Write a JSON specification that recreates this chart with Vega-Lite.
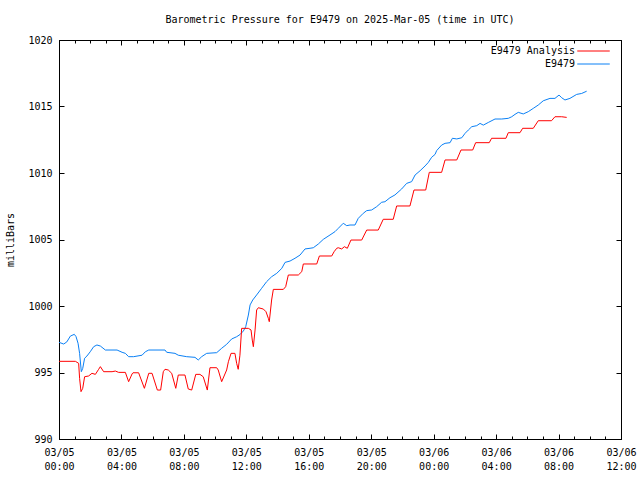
{
  "$schema": "https://vega.github.io/schema/vega-lite/v6.json",
  "width": 562,
  "height": 399,
  "autosize": {"type": "none"},
  "padding": {"left": 59, "top": 40, "right": 19, "bottom": 41},
  "background": "white",
  "title": {"text": "Barometric Pressure for E9479 on 2025-Mar-05 (time in UTC)", "font": "DejaVu Sans Mono", "fontSize": 10, "fontWeight": "normal", "color": "black", "anchor": "middle", "offset": 10},
  "config": {
    "view": {"stroke": "black", "strokeWidth": 1},
    "font": "DejaVu Sans Mono",
    "axis": {"domainColor": "black", "tickColor": "black", "labelColor": "black", "titleColor": "black", "labelFont": "DejaVu Sans Mono", "labelFontSize": 10, "titleFont": "DejaVu Sans Mono", "titleFontSize": 10, "titleFontWeight": "normal", "grid": false}
  },
  "datasets": {
    "obs": [
      {"series": "E9479", "hours": 0, "mb": 997.27},
      {"series": "E9479", "hours": 0.3, "mb": 997.14},
      {"series": "E9479", "hours": 0.5, "mb": 997.3},
      {"series": "E9479", "hours": 0.73, "mb": 997.74},
      {"series": "E9479", "hours": 0.98, "mb": 997.87},
      {"series": "E9479", "hours": 1.09, "mb": 997.7},
      {"series": "E9479", "hours": 1.22, "mb": 997.2},
      {"series": "E9479", "hours": 1.32, "mb": 996.44},
      {"series": "E9479", "hours": 1.43, "mb": 995.06},
      {"series": "E9479", "hours": 1.52, "mb": 995.31},
      {"series": "E9479", "hours": 1.64, "mb": 996.07},
      {"series": "E9479", "hours": 1.79, "mb": 996.24},
      {"series": "E9479", "hours": 2.0, "mb": 996.56},
      {"series": "E9479", "hours": 2.22, "mb": 996.94},
      {"series": "E9479", "hours": 2.43, "mb": 997.07},
      {"series": "E9479", "hours": 2.65, "mb": 996.99},
      {"series": "E9479", "hours": 2.97, "mb": 996.69},
      {"series": "E9479", "hours": 3.72, "mb": 996.69},
      {"series": "E9479", "hours": 4.04, "mb": 996.52},
      {"series": "E9479", "hours": 4.25, "mb": 996.44},
      {"series": "E9479", "hours": 4.46, "mb": 996.19},
      {"series": "E9479", "hours": 4.78, "mb": 996.19},
      {"series": "E9479", "hours": 5.32, "mb": 996.3},
      {"series": "E9479", "hours": 5.53, "mb": 996.56},
      {"series": "E9479", "hours": 5.75, "mb": 996.69},
      {"series": "E9479", "hours": 6.79, "mb": 996.69},
      {"series": "E9479", "hours": 6.9, "mb": 996.52},
      {"series": "E9479", "hours": 7.43, "mb": 996.44},
      {"series": "E9479", "hours": 7.64, "mb": 996.3},
      {"series": "E9479", "hours": 8.18, "mb": 996.19},
      {"series": "E9479", "hours": 8.71, "mb": 996.14},
      {"series": "E9479", "hours": 8.92, "mb": 995.94},
      {"series": "E9479", "hours": 9.14, "mb": 996.19},
      {"series": "E9479", "hours": 9.46, "mb": 996.44},
      {"series": "E9479", "hours": 10.1, "mb": 996.49},
      {"series": "E9479", "hours": 10.42, "mb": 996.82},
      {"series": "E9479", "hours": 10.74, "mb": 997.12},
      {"series": "E9479", "hours": 11.06, "mb": 997.52},
      {"series": "E9479", "hours": 11.38, "mb": 997.69},
      {"series": "E9479", "hours": 11.59, "mb": 997.85},
      {"series": "E9479", "hours": 11.81, "mb": 998.12},
      {"series": "E9479", "hours": 11.96, "mb": 998.44},
      {"series": "E9479", "hours": 12.13, "mb": 999.32},
      {"series": "E9479", "hours": 12.24, "mb": 1000.08},
      {"series": "E9479", "hours": 12.41, "mb": 1000.45},
      {"series": "E9479", "hours": 12.66, "mb": 1000.83},
      {"series": "E9479", "hours": 12.98, "mb": 1001.33},
      {"series": "E9479", "hours": 13.3, "mb": 1001.83},
      {"series": "E9479", "hours": 13.62, "mb": 1002.2},
      {"series": "E9479", "hours": 13.95, "mb": 1002.46},
      {"series": "E9479", "hours": 14.27, "mb": 1002.83},
      {"series": "E9479", "hours": 14.48, "mb": 1003.28},
      {"series": "E9479", "hours": 14.8, "mb": 1003.38},
      {"series": "E9479", "hours": 15.12, "mb": 1003.59},
      {"series": "E9479", "hours": 15.44, "mb": 1003.83},
      {"series": "E9479", "hours": 15.76, "mb": 1004.29},
      {"series": "E9479", "hours": 16.08, "mb": 1004.34},
      {"series": "E9479", "hours": 16.29, "mb": 1004.38},
      {"series": "E9479", "hours": 16.61, "mb": 1004.66},
      {"series": "E9479", "hours": 16.93, "mb": 1005.01},
      {"series": "E9479", "hours": 17.36, "mb": 1005.34},
      {"series": "E9479", "hours": 17.68, "mb": 1005.59},
      {"series": "E9479", "hours": 17.89, "mb": 1005.84},
      {"series": "E9479", "hours": 18.21, "mb": 1006.22},
      {"series": "E9479", "hours": 18.43, "mb": 1006.04},
      {"series": "E9479", "hours": 18.64, "mb": 1006.09},
      {"series": "E9479", "hours": 18.96, "mb": 1006.09},
      {"series": "E9479", "hours": 19.17, "mb": 1006.59},
      {"series": "E9479", "hours": 19.49, "mb": 1006.97},
      {"series": "E9479", "hours": 19.71, "mb": 1007.17},
      {"series": "E9479", "hours": 20.03, "mb": 1007.22},
      {"series": "E9479", "hours": 20.35, "mb": 1007.47},
      {"series": "E9479", "hours": 20.67, "mb": 1007.8},
      {"series": "E9479", "hours": 20.88, "mb": 1007.84},
      {"series": "E9479", "hours": 21.2, "mb": 1008.14},
      {"series": "E9479", "hours": 21.52, "mb": 1008.35},
      {"series": "E9479", "hours": 21.95, "mb": 1008.8},
      {"series": "E9479", "hours": 22.27, "mb": 1009.22},
      {"series": "E9479", "hours": 22.59, "mb": 1009.35},
      {"series": "E9479", "hours": 22.81, "mb": 1009.85},
      {"series": "E9479", "hours": 23.13, "mb": 1010.17},
      {"series": "E9479", "hours": 23.45, "mb": 1010.53},
      {"series": "E9479", "hours": 23.66, "mb": 1010.8},
      {"series": "E9479", "hours": 23.87, "mb": 1011.18},
      {"series": "E9479", "hours": 24.09, "mb": 1011.4},
      {"series": "E9479", "hours": 24.19, "mb": 1011.68},
      {"series": "E9479", "hours": 24.51, "mb": 1012.1},
      {"series": "E9479", "hours": 24.73, "mb": 1012.23},
      {"series": "E9479", "hours": 25.05, "mb": 1012.28},
      {"series": "E9479", "hours": 25.2, "mb": 1012.61},
      {"series": "E9479", "hours": 25.48, "mb": 1012.56},
      {"series": "E9479", "hours": 25.8, "mb": 1012.65},
      {"series": "E9479", "hours": 26.01, "mb": 1012.98},
      {"series": "E9479", "hours": 26.22, "mb": 1013.23},
      {"series": "E9479", "hours": 26.44, "mb": 1013.48},
      {"series": "E9479", "hours": 26.76, "mb": 1013.56},
      {"series": "E9479", "hours": 26.97, "mb": 1013.73},
      {"series": "E9479", "hours": 27.18, "mb": 1013.6},
      {"series": "E9479", "hours": 27.5, "mb": 1013.8},
      {"series": "E9479", "hours": 27.93, "mb": 1014.06},
      {"series": "E9479", "hours": 28.36, "mb": 1014.06},
      {"series": "E9479", "hours": 28.78, "mb": 1014.11},
      {"series": "E9479", "hours": 29.0, "mb": 1014.23},
      {"series": "E9479", "hours": 29.21, "mb": 1014.41},
      {"series": "E9479", "hours": 29.42, "mb": 1014.56},
      {"series": "E9479", "hours": 29.74, "mb": 1014.44},
      {"series": "E9479", "hours": 30.06, "mb": 1014.61},
      {"series": "E9479", "hours": 30.38, "mb": 1014.86},
      {"series": "E9479", "hours": 30.7, "mb": 1015.11},
      {"series": "E9479", "hours": 31.02, "mb": 1015.43},
      {"series": "E9479", "hours": 31.45, "mb": 1015.61},
      {"series": "E9479", "hours": 31.77, "mb": 1015.61},
      {"series": "E9479", "hours": 32.03, "mb": 1015.86},
      {"series": "E9479", "hours": 32.2, "mb": 1015.66},
      {"series": "E9479", "hours": 32.41, "mb": 1015.49},
      {"series": "E9479", "hours": 32.73, "mb": 1015.61},
      {"series": "E9479", "hours": 33.16, "mb": 1015.91},
      {"series": "E9479", "hours": 33.48, "mb": 1015.98},
      {"series": "E9479", "hours": 33.8, "mb": 1016.15},
      {"series": "E9479 Analysis", "hours": 0, "mb": 995.84},
      {"series": "E9479 Analysis", "hours": 1.05, "mb": 995.84},
      {"series": "E9479 Analysis", "hours": 1.26, "mb": 995.69},
      {"series": "E9479 Analysis", "hours": 1.32, "mb": 994.56},
      {"series": "E9479 Analysis", "hours": 1.41, "mb": 993.56},
      {"series": "E9479 Analysis", "hours": 1.52, "mb": 993.81},
      {"series": "E9479 Analysis", "hours": 1.64, "mb": 994.68},
      {"series": "E9479 Analysis", "hours": 1.9, "mb": 994.74},
      {"series": "E9479 Analysis", "hours": 2.11, "mb": 994.94},
      {"series": "E9479 Analysis", "hours": 2.33, "mb": 994.86},
      {"series": "E9479 Analysis", "hours": 2.54, "mb": 995.24},
      {"series": "E9479 Analysis", "hours": 2.65, "mb": 995.44},
      {"series": "E9479 Analysis", "hours": 2.86, "mb": 995.06},
      {"series": "E9479 Analysis", "hours": 3.4, "mb": 995.06},
      {"series": "E9479 Analysis", "hours": 3.61, "mb": 995.11},
      {"series": "E9479 Analysis", "hours": 3.82, "mb": 995.01},
      {"series": "E9479 Analysis", "hours": 4.25, "mb": 995.01},
      {"series": "E9479 Analysis", "hours": 4.46, "mb": 994.31},
      {"series": "E9479 Analysis", "hours": 4.68, "mb": 994.89},
      {"series": "E9479 Analysis", "hours": 4.74, "mb": 994.98},
      {"series": "E9479 Analysis", "hours": 5.1, "mb": 994.98},
      {"series": "E9479 Analysis", "hours": 5.47, "mb": 993.81},
      {"series": "E9479 Analysis", "hours": 5.75, "mb": 994.94},
      {"series": "E9479 Analysis", "hours": 5.96, "mb": 994.94},
      {"series": "E9479 Analysis", "hours": 6.3, "mb": 993.68},
      {"series": "E9479 Analysis", "hours": 6.51, "mb": 993.68},
      {"series": "E9479 Analysis", "hours": 6.68, "mb": 995.06},
      {"series": "E9479 Analysis", "hours": 6.79, "mb": 995.24},
      {"series": "E9479 Analysis", "hours": 7.0, "mb": 995.19},
      {"series": "E9479 Analysis", "hours": 7.22, "mb": 994.94},
      {"series": "E9479 Analysis", "hours": 7.48, "mb": 993.81},
      {"series": "E9479 Analysis", "hours": 7.64, "mb": 994.81},
      {"series": "E9479 Analysis", "hours": 8.07, "mb": 994.81},
      {"series": "E9479 Analysis", "hours": 8.28, "mb": 993.76},
      {"series": "E9479 Analysis", "hours": 8.5, "mb": 993.68},
      {"series": "E9479 Analysis", "hours": 8.76, "mb": 994.86},
      {"series": "E9479 Analysis", "hours": 9.03, "mb": 994.86},
      {"series": "E9479 Analysis", "hours": 9.24, "mb": 994.68},
      {"series": "E9479 Analysis", "hours": 9.5, "mb": 993.68},
      {"series": "E9479 Analysis", "hours": 9.67, "mb": 995.36},
      {"series": "E9479 Analysis", "hours": 10.1, "mb": 995.36},
      {"series": "E9479 Analysis", "hours": 10.2, "mb": 995.19},
      {"series": "E9479 Analysis", "hours": 10.42, "mb": 994.31},
      {"series": "E9479 Analysis", "hours": 10.74, "mb": 995.19},
      {"series": "E9479 Analysis", "hours": 10.85, "mb": 995.81},
      {"series": "E9479 Analysis", "hours": 11.02, "mb": 996.44},
      {"series": "E9479 Analysis", "hours": 11.27, "mb": 996.44},
      {"series": "E9479 Analysis", "hours": 11.38, "mb": 995.69},
      {"series": "E9479 Analysis", "hours": 11.48, "mb": 995.24},
      {"series": "E9479 Analysis", "hours": 11.59, "mb": 996.3},
      {"series": "E9479 Analysis", "hours": 11.7, "mb": 998.32},
      {"series": "E9479 Analysis", "hours": 12.13, "mb": 998.32},
      {"series": "E9479 Analysis", "hours": 12.3, "mb": 998.2},
      {"series": "E9479 Analysis", "hours": 12.38, "mb": 997.44},
      {"series": "E9479 Analysis", "hours": 12.45, "mb": 996.94},
      {"series": "E9479 Analysis", "hours": 12.56, "mb": 998.2},
      {"series": "E9479 Analysis", "hours": 12.66, "mb": 999.7},
      {"series": "E9479 Analysis", "hours": 12.77, "mb": 999.87},
      {"series": "E9479 Analysis", "hours": 13.09, "mb": 999.77},
      {"series": "E9479 Analysis", "hours": 13.26, "mb": 999.57},
      {"series": "E9479 Analysis", "hours": 13.41, "mb": 999.07},
      {"series": "E9479 Analysis", "hours": 13.47, "mb": 998.82},
      {"series": "E9479 Analysis", "hours": 13.62, "mb": 1000.45},
      {"series": "E9479 Analysis", "hours": 13.73, "mb": 1001.25},
      {"series": "E9479 Analysis", "hours": 14.37, "mb": 1001.25},
      {"series": "E9479 Analysis", "hours": 14.52, "mb": 1001.45},
      {"series": "E9479 Analysis", "hours": 14.69, "mb": 1002.33},
      {"series": "E9479 Analysis", "hours": 15.33, "mb": 1002.33},
      {"series": "E9479 Analysis", "hours": 15.55, "mb": 1002.58},
      {"series": "E9479 Analysis", "hours": 15.65, "mb": 1003.16},
      {"series": "E9479 Analysis", "hours": 16.51, "mb": 1003.16},
      {"series": "E9479 Analysis", "hours": 16.68, "mb": 1003.76},
      {"series": "E9479 Analysis", "hours": 17.47, "mb": 1003.76},
      {"series": "E9479 Analysis", "hours": 17.62, "mb": 1004.08},
      {"series": "E9479 Analysis", "hours": 17.79, "mb": 1004.34},
      {"series": "E9479 Analysis", "hours": 17.89, "mb": 1004.38},
      {"series": "E9479 Analysis", "hours": 18.11, "mb": 1004.29},
      {"series": "E9479 Analysis", "hours": 18.28, "mb": 1004.46},
      {"series": "E9479 Analysis", "hours": 18.47, "mb": 1004.34},
      {"series": "E9479 Analysis", "hours": 18.7, "mb": 1004.96},
      {"series": "E9479 Analysis", "hours": 19.39, "mb": 1004.96},
      {"series": "E9479 Analysis", "hours": 19.71, "mb": 1005.71},
      {"series": "E9479 Analysis", "hours": 20.45, "mb": 1005.71},
      {"series": "E9479 Analysis", "hours": 20.77, "mb": 1006.52},
      {"series": "E9479 Analysis", "hours": 21.41, "mb": 1006.52},
      {"series": "E9479 Analysis", "hours": 21.63, "mb": 1007.52},
      {"series": "E9479 Analysis", "hours": 22.48, "mb": 1007.52},
      {"series": "E9479 Analysis", "hours": 22.74, "mb": 1008.72},
      {"series": "E9479 Analysis", "hours": 23.49, "mb": 1008.72},
      {"series": "E9479 Analysis", "hours": 23.72, "mb": 1010.05},
      {"series": "E9479 Analysis", "hours": 24.51, "mb": 1010.05},
      {"series": "E9479 Analysis", "hours": 24.73, "mb": 1010.98},
      {"series": "E9479 Analysis", "hours": 25.48, "mb": 1010.98},
      {"series": "E9479 Analysis", "hours": 25.75, "mb": 1011.73},
      {"series": "E9479 Analysis", "hours": 26.5, "mb": 1011.73},
      {"series": "E9479 Analysis", "hours": 26.69, "mb": 1012.28},
      {"series": "E9479 Analysis", "hours": 27.56, "mb": 1012.28},
      {"series": "E9479 Analysis", "hours": 27.71, "mb": 1012.61},
      {"series": "E9479 Analysis", "hours": 28.63, "mb": 1012.61},
      {"series": "E9479 Analysis", "hours": 28.78, "mb": 1013.03},
      {"series": "E9479 Analysis", "hours": 29.53, "mb": 1013.03},
      {"series": "E9479 Analysis", "hours": 29.7, "mb": 1013.36},
      {"series": "E9479 Analysis", "hours": 30.38, "mb": 1013.36},
      {"series": "E9479 Analysis", "hours": 30.7, "mb": 1013.93},
      {"series": "E9479 Analysis", "hours": 31.55, "mb": 1013.93},
      {"series": "E9479 Analysis", "hours": 31.77, "mb": 1014.23},
      {"series": "E9479 Analysis", "hours": 32.2, "mb": 1014.23},
      {"series": "E9479 Analysis", "hours": 32.52, "mb": 1014.18}
    ]
  },
  "data": {"name": "obs"},
  "layer": [
    {
      "mark": {"type": "line", "strokeWidth": 1, "clip": true},
      "encoding": {
        "x": {"field": "hours", "type": "quantitative", "scale": {"domain": [0, 36], "nice": false, "zero": false},
          "axis": {"orient": "bottom", "title": null, "values": [0, 4, 8, 12, 16, 20, 24, 28, 32, 36], "tickSize": -5, "labelPadding": 13, "labelLineHeight": 14, "labelBaseline": "top", "labelFlush": false, "labelOverlap": false,
            "labelExpr": "[datum.value < 24 ? '03/05' : '03/06', (datum.value % 24 < 10 ? '0' : '') + (datum.value % 24) + ':00']"}},
        "y": {"field": "mb", "type": "quantitative", "scale": {"domain": [990, 1020], "nice": false, "zero": false},
          "axis": {"orient": "left", "title": "milliBars", "format": "d", "values": [990, 995, 1000, 1005, 1010, 1015, 1020], "tickSize": -5, "labelPadding": 12, "titlePadding": 12, "labelFlush": false, "labelOverlap": false}},
        "color": {"field": "series", "type": "nominal",
          "scale": {"domain": ["E9479 Analysis", "E9479"], "range": ["#ff0000", "#0a80f5"]},
          "legend": {"title": null, "orient": "none", "legendX": 527.5, "legendY": 4, "symbolType": "M-2.5,0H2.5", "symbolSize": 169, "symbolStrokeWidth": 1, "labelAlign": "right", "labelOffset": -25.5, "labelFont": "DejaVu Sans Mono", "labelFontSize": 10, "labelColor": "black", "rowPadding": 1, "padding": 0}}
      }
    },
    {
      "mark": {"type": "line", "opacity": 0},
      "encoding": {
        "x": {"field": "hours", "type": "quantitative", "axis": {"orient": "top", "title": null, "values": [0, 4, 8, 12, 16, 20, 24, 28, 32, 36], "tickSize": -5, "labels": false, "domain": false}},
        "y": {"field": "mb", "type": "quantitative", "axis": {"orient": "right", "title": null, "values": [990, 995, 1000, 1005, 1010, 1015, 1020], "tickSize": -5, "labels": false, "domain": false}}
      }
    },
    {
      "mark": {"type": "line", "opacity": 0},
      "encoding": {
        "x": {"field": "hours", "type": "quantitative", "axis": {"orient": "bottom", "title": null, "values": [0,1,2,3,4,5,6,7,8,9,10,11,12,13,14,15,16,17,18,19,20,21,22,23,24,25,26,27,28,29,30,31,32,33,34,35,36], "tickSize": -3, "labels": false, "domain": false}},
        "y": {"field": "mb", "type": "quantitative", "axis": null}
      }
    },
    {
      "mark": {"type": "line", "opacity": 0},
      "encoding": {
        "x": {"field": "hours", "type": "quantitative", "axis": {"orient": "top", "title": null, "values": [0,1,2,3,4,5,6,7,8,9,10,11,12,13,14,15,16,17,18,19,20,21,22,23,24,25,26,27,28,29,30,31,32,33,34,35,36], "tickSize": -3, "labels": false, "domain": false}},
        "y": {"field": "mb", "type": "quantitative", "axis": null}
      }
    }
  ],
  "resolve": {"axis": {"x": "independent", "y": "independent"}}
}
